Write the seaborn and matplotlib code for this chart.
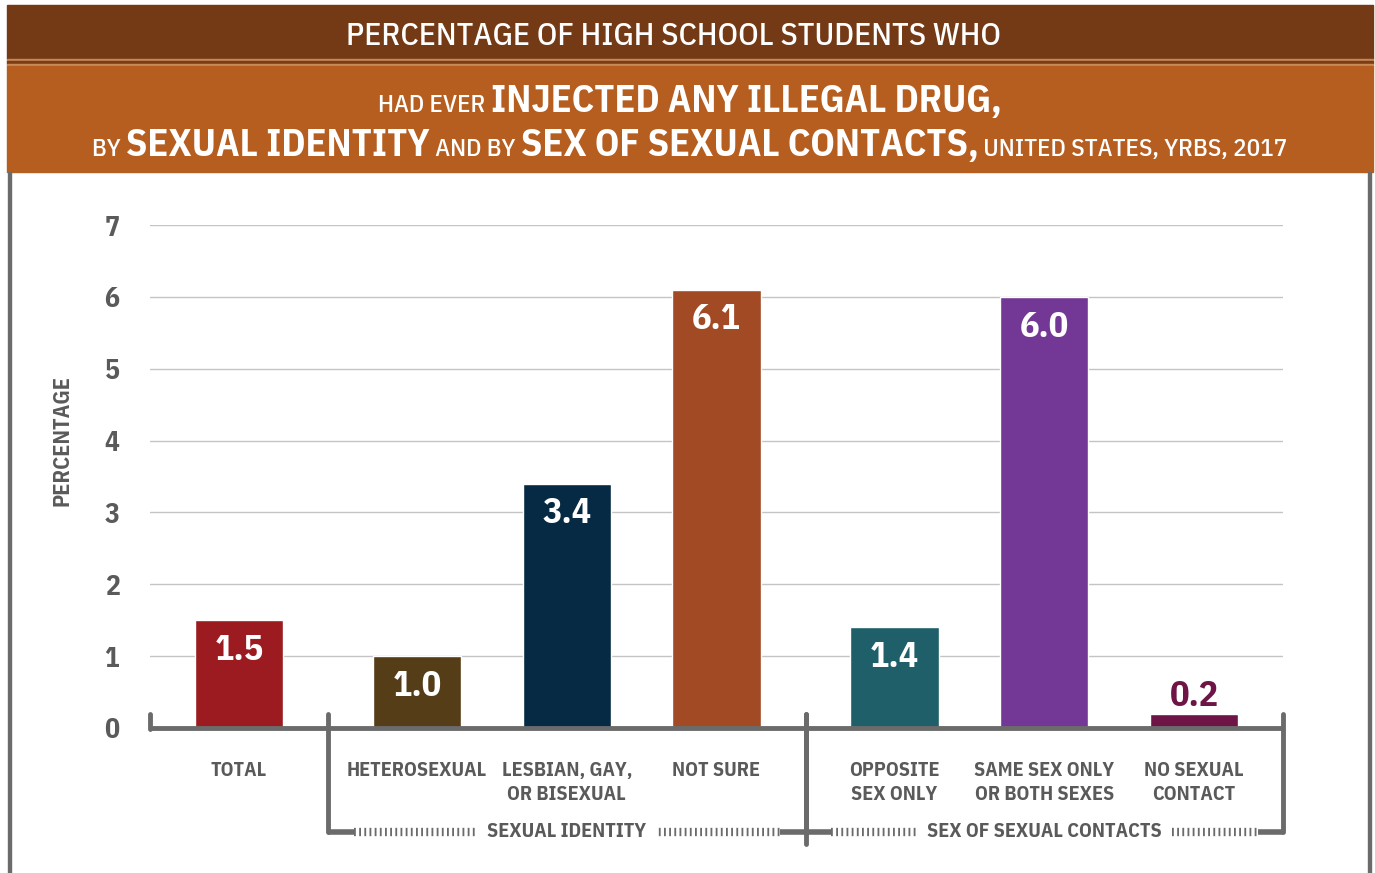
import numpy as np
import pandas as pd
import matplotlib.pyplot as plt
import matplotlib.patches as mpatches
import seaborn as sb

# chart data
categories = ['TOTAL', 'HETEROSEXUAL', 'LESBIAN, GAY,\nOR BISEXUAL', 'NOT SURE',
              'OPPOSITE\nSEX ONLY', 'SAME SEX ONLY\nOR BOTH SEXES', 'NO SEXUAL\nCONTACT']
groups = ['', 'SEXUAL IDENTITY', 'SEXUAL IDENTITY', 'SEXUAL IDENTITY',
          'SEX OF SEXUAL CONTACTS', 'SEX OF SEXUAL CONTACTS', 'SEX OF SEXUAL CONTACTS']
values = [1.5, 1.0, 3.4, 6.1, 1.4, 6.0, 0.2]
bar_colors = ['#9b1b20', '#553d17', '#062a43', '#a14a24', '#1e5f69', '#733895', '#6e1446']
y_ticks = [0, 1, 2, 3, 4, 5, 6, 7]

W, H = 1375, 873
GRAY = '#6b6b6b'
TXT = '#5a5a5a'

sb.set_style('white')
FONT = ['IBM Plex Sans Condensed', 'Open Sans Condensed', 'Liberation Sans Narrow', 'DejaVu Sans']
plt.rcParams['font.family'] = FONT

# x positions: one step per bar, extra gap between groups
group_order = list(dict.fromkeys(groups))
gap = 0.19
xpos = [i + gap * group_order.index(g) for i, g in enumerate(groups)]
half = (1 + gap) / 2

df = pd.DataFrame({'x': xpos, 'value': values, 'category': categories})

fig = plt.figure(figsize=(W / 100, H / 100), dpi=100)
ax = fig.add_axes([150 / W, 1 - 728 / H, (1283 - 150) / W, (728 - 225) / H])

sb.barplot(data=df, x='x', y='value', hue='category', palette=bar_colors,
           native_scale=True, dodge=False, width=0.59, legend=False,
           saturation=1, ax=ax, zorder=3)

ax.set_xlim(xpos[0] - half, xpos[-1] + half)
ax.set_ylim(0, 7)
ax.set_yticks(y_ticks)
ax.set_yticklabels([str(t) for t in y_ticks], fontsize=20, fontweight='bold', color=TXT)
ax.tick_params(axis='y', length=0, pad=22)
ax.set_xticks([])
ax.set_xlabel('')
ax.set_ylabel('')
for s in ax.spines.values():
    s.set_visible(False)
ax.grid(axis='y', color='#c4c4c4', linewidth=1, zorder=0)
ax.set_axisbelow(True)

fig.text(62 / W, 1 - 441 / H, 'PERCENTAGE', rotation=90, ha='center', va='center',
         fontsize=16, fontweight='bold', color=TXT)

# value labels
for x, v, c in zip(xpos, values, bar_colors):
    if v < 0.8:
        ax.text(x, v + 0.01, f'{v:.1f}', ha='center', va='bottom', fontsize=26,
                fontweight='bold', color=c, zorder=4)
    else:
        ax.text(x, v - 0.42, f'{v:.1f}', ha='center', va='center', fontsize=26,
                fontweight='bold', color='white', zorder=4)

# category labels
for x, lab in zip(xpos, categories):
    ax.text(x, -0.46, lab, ha='center', va='top', fontsize=14.5, fontweight='bold',
            color=TXT, linespacing=1.35, clip_on=False)

# baseline and brackets
xl, xr = ax.get_xlim()
ax.plot([xl, xr], [0, 0], color=GRAY, lw=3.5, clip_on=False, zorder=5, solid_capstyle='butt')
ax.plot([xl, xl], [-0.02, 0.2], color=GRAY, lw=3.5, clip_on=False, zorder=5)
yb = -1.447
for g in group_order[1:]:
    idx = [i for i, gg in enumerate(groups) if gg == g]
    a, b = xpos[idx[0]] - half, xpos[idx[-1]] + half
    ax.plot([a, a], [0.2, yb], color=GRAY, lw=3.5, clip_on=False, zorder=5)
    ax.plot([b, b], [0.2, yb], color=GRAY, lw=3.5, clip_on=False, zorder=5)
    ax.plot([a, a + 0.17], [yb, yb], color=GRAY, lw=4, clip_on=False, solid_capstyle='butt')
    ax.plot([b - 0.17, b], [yb, yb], color=GRAY, lw=4, clip_on=False, solid_capstyle='butt')
    ax.plot([a + 0.17, b - 0.17], [yb, yb], color=GRAY, lw=6, clip_on=False,
            linestyle=(0, (0.22, 0.4)), dash_capstyle='butt')
    ax.text((a + b) / 2, yb, g, ha='center', va='center', fontsize=14.5, fontweight='bold',
            color=TXT, clip_on=False, zorder=6,
            bbox=dict(facecolor='white', edgecolor='none', pad=7))
# middle separator drops a bit lower
mid = xpos[3] + half
ax.plot([mid, mid], [yb, -1.62], color=GRAY, lw=3.5, clip_on=False)

# header bands
def band(y0, y1, color, x0=7, x1=1373):
    fig.patches.append(mpatches.Rectangle((x0 / W, 1 - y1 / H), (x1 - x0) / W, (y1 - y0) / H,
                                          transform=fig.transFigure, color=color, zorder=0))

band(5, 59, '#733a15')
band(59, 60.5, '#c88757')
band(60.5, 64, '#7a3d16')
band(64, 66, '#c98a5a')
band(66, 172, '#b55e20')
# side borders
band(172, 873, GRAY, 8, 11)
band(172, 873, GRAY, 1368, 1371)

fig.text(673 / W, 1 - 36 / H, 'PERCENTAGE OF HIGH SCHOOL STUDENTS WHO', ha='center',
         va='center', fontsize=23, fontweight='medium', color='white')


def rich_line(pieces, y_px, cx_px):
    r = fig.canvas.get_renderer()
    objs = [fig.text(0, 1 - y_px / H, s, fontsize=sz, fontweight=wt, color='white',
                     va='baseline', ha='left') for s, sz, wt in pieces]
    widths = [t.get_window_extent(r).width for t in objs]
    x = cx_px - sum(widths) / 2
    for t, w in zip(objs, widths):
        t.set_x(x / W)
        x += w


BIG, SMALL = 27.5, 18
rich_line([('HAD EVER ', SMALL, 'medium'), ('INJECTED ANY ILLEGAL DRUG,', BIG, 'bold')], 112, 690)
rich_line([('BY ', SMALL, 'medium'), ('SEXUAL IDENTITY', BIG, 'bold'), (' AND BY ', SMALL, 'medium'),
           ('SEX OF SEXUAL CONTACTS,', BIG, 'bold'), (' UNITED STATES, YRBS, 2017', SMALL, 'medium')],
          156, 690)

plt.savefig('out.png', dpi=100)
